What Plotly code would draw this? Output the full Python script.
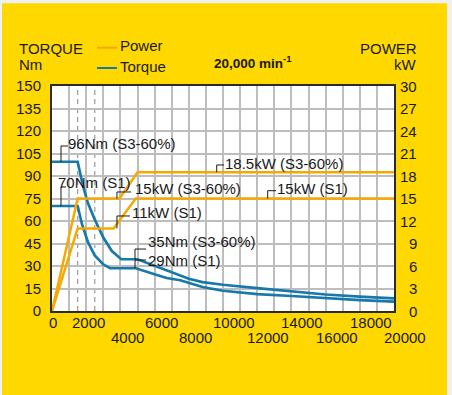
import plotly.graph_objects as go

# ---------------- data ----------------
torque_s3_rpm = [0, 1500, 1800, 2100, 2500, 3000, 3500, 4050, 5000, 6000, 7000, 8000, 8800, 10000, 12000, 14000, 16000, 18000, 20000]
torque_s3_nm  = [99.5, 99.5, 84, 72, 61, 49, 40, 34.5, 34.5, 30, 25.5, 21.5, 19.3, 17.5, 15.3, 13, 11, 9.6, 8.4]

torque_s1_rpm = [0, 1500, 1750, 2100, 2500, 3000, 3400, 4900, 6000, 6700, 7500, 8800, 10000, 11000, 12000, 14000, 16000, 18000, 20000]
torque_s1_nm  = [70, 70, 58, 46, 37, 31, 28.5, 28.5, 24.5, 22, 20.5, 16, 13.5, 12.2, 11.3, 10, 8.5, 7.2, 6.2]

power_s3_rpm = [0, 1500, 3950, 5000, 20000]
power_s3_kw  = [0, 15, 15, 18.5, 18.5]

power_s1_rpm = [0, 1500, 3600, 4900, 20000]
power_s1_kw  = [0, 11, 11, 15, 15]

x_ticks = list(range(0, 20001, 1000))
x_labels_row1 = [0, 2000, 6000, 10000, 14000, 18000]
x_labels_row2 = [4000, 8000, 12000, 16000, 20000]
torque_ticks = list(range(0, 151, 15))
power_ticks = list(range(0, 31, 3))
dashed_rpm = [1500, 2500]

ORANGE = "#F5A800"
BLUE = "#1778AC"
YELLOW = "#FFD800"
TXT = "#1a1a1a"
FONT = "Liberation Sans"

fig = go.Figure()

fig.add_trace(go.Scatter(x=power_s1_rpm, y=power_s1_kw, yaxis="y2", mode="lines",
                         line=dict(color=ORANGE, width=2.5), showlegend=False))
fig.add_trace(go.Scatter(x=power_s3_rpm, y=power_s3_kw, yaxis="y2", mode="lines",
                         line=dict(color=ORANGE, width=2.5), showlegend=False))
fig.add_trace(go.Scatter(x=torque_s1_rpm, y=torque_s1_nm, mode="lines",
                         line=dict(color=BLUE, width=2.7), showlegend=False))
fig.add_trace(go.Scatter(x=torque_s3_rpm, y=torque_s3_nm, mode="lines",
                         line=dict(color=BLUE, width=2.7), showlegend=False))

W, H = 452, 395
L, R, T, B = 52, 58, 86, 84
pw, ph = W - L - R, H - T - B

def px(xp):
    return (xp - L) / pw

def py(yp):
    return (H - B - yp) / ph

shapes = []
# outer light strips (page background outside the yellow panel)
shapes.append(dict(type="rect", xref="paper", yref="paper", x0=px(0), x1=px(W), y0=py(3.3), y1=py(0),
                   fillcolor="#f0f0f0", line=dict(width=0), layer="below"))
shapes.append(dict(type="rect", xref="paper", yref="paper", x0=px(0), x1=px(2), y0=py(H), y1=py(0),
                   fillcolor="#f0f0f0", line=dict(width=0), layer="below"))
shapes.append(dict(type="rect", xref="paper", yref="paper", x0=px(447), x1=px(W), y0=py(H), y1=py(0),
                   fillcolor="#f0f0f0", line=dict(width=0), layer="below"))

for r in dashed_rpm:
    shapes.append(dict(type="line", xref="x", yref="paper", x0=r, x1=r, y0=0, y1=1,
                       line=dict(color="#9a9a9a", width=1.2, dash="5px,4px"), layer="below"))

# leader lines (elbows) for labels
def leader(pts, yref="y"):
    path = "M " + " L ".join(f"{a},{b}" for a, b in pts)
    shapes.append(dict(type="path", xref="x", yref=yref, path=path,
                       line=dict(color=TXT, width=1)))

leader([(526, 99.5), (526, 110), (936, 110)])
leader([(526, 70), (526, 82.7), (820, 82.7)])
leader([(3800, 15), (3800, 15.87), (4620, 15.87)], "y2")
leader([(3800, 11), (3800, 12.67), (4560, 12.67)], "y2")
leader([(9632, 18.5), (9632, 19.47), (10058, 19.47)], "y2")
leader([(12614, 15), (12614, 16.04), (13100, 16.04)], "y2")
leader([(4854, 34.5), (4854, 41.3), (5497, 41.3)])
leader([(4854, 28.5), (4854, 34), (5497, 34)])

# legend samples
shapes.append(dict(type="line", xref="paper", yref="paper", x0=px(97), x1=px(117), y0=py(47.7), y1=py(47.7),
                   line=dict(color=ORANGE, width=2)))
shapes.append(dict(type="line", xref="paper", yref="paper", x0=px(97), x1=px(117), y0=py(68), y1=py(68),
                   line=dict(color=BLUE, width=2)))

ann = []
def label(text, x, y, yref="y", size=15):
    ann.append(dict(text=text, x=x, y=y, xref="x", yref=yref, xanchor="left", yanchor="middle",
                    showarrow=False, font=dict(family=FONT, size=size, color=TXT), borderpad=0))

label("96Nm (S3-60%)", 880, 112)
label("70Nm (S1)", 300, 86)
label("15kW (S3-60%)", 4780, 16.4, "y2")
label("11kW (S1)", 4600, 13.07, "y2")
label("18.5kW (S3-60%)", 10050, 19.73, "y2")
label("15kW (S1)", 13100, 16.4, "y2")
label("35Nm (S3-60%)", 5550, 46.2)
label("29Nm (S1)", 5550, 34)

def ptext(text, x, y, anchor="left", size=15, bold=False):
    ann.append(dict(text=f"<b>{text}</b>" if bold else text, x=px(x), y=py(y), xref="paper", yref="paper",
                    xanchor=anchor, yanchor="middle", showarrow=False,
                    font=dict(family=FONT, size=size, color=TXT), borderpad=0))

ptext("TORQUE", 18, 48)
ptext("Nm", 18, 64)
ptext("POWER", 418, 48, "right")
ptext("kW", 418, 64, "right")
ptext("Power", 119, 46)
ptext("Torque", 119, 67)
ann.append(dict(text="<b>20,000 min<sup>-1</sup></b>", x=px(252), y=py(62), xref="paper", yref="paper",
                xanchor="center", yanchor="middle", showarrow=False,
                font=dict(family=FONT, size=13.5, color=TXT), borderpad=0))

# right-axis tick labels, right aligned
for v in power_ticks:
    ann.append(dict(text=str(v), x=px(418), y=v, xref="paper", yref="y2", xanchor="right", yanchor="middle",
                    showarrow=False, font=dict(family=FONT, size=15, color=TXT), borderpad=0))

# x-axis tick labels, staggered on two rows
def xshift_for(v):
    if v == 0:
        return 1
    if v == 2000:
        return 2
    return 7 if v < 10000 else 11

for v in x_labels_row1:
    ann.append(dict(text=str(v), x=v, y=py(322), xref="x", yref="paper", xanchor="center", yanchor="middle",
                    xshift=xshift_for(v), showarrow=False, font=dict(family=FONT, size=15, color=TXT), borderpad=0))
for v in x_labels_row2:
    ann.append(dict(text=str(v), x=v, y=py(337), xref="x", yref="paper", xanchor="center", yanchor="middle",
                    xshift=xshift_for(v), showarrow=False, font=dict(family=FONT, size=15, color=TXT), borderpad=0))

fig.update_layout(
    width=W, height=H,
    margin=dict(l=L, r=R, t=T, b=B),
    paper_bgcolor=YELLOW, plot_bgcolor="white",
    showlegend=False,
    font=dict(family=FONT, size=15, color=TXT),
    shapes=shapes, annotations=ann,
    xaxis=dict(range=[0, 20000], tickvals=x_ticks, showticklabels=False,
               showgrid=True, gridcolor="#bdbdbd", gridwidth=1.5, zeroline=False,
               showline=True, linecolor="#2b2b2b", linewidth=2, mirror=True, ticks=""),
    yaxis=dict(range=[0, 150], tickvals=torque_ticks, showgrid=True, gridcolor="#bdbdbd", gridwidth=1.5,
               zeroline=False, showline=True, linecolor="#2b2b2b", linewidth=2, mirror=True,
               ticks="", tickfont=dict(family=FONT, size=15, color=TXT), ticklabelstandoff=6),
    yaxis2=dict(range=[0, 30], overlaying="y", side="right", showgrid=False, zeroline=False,
                showticklabels=False, tickvals=power_ticks),
)

fig.write_html("out.html")
